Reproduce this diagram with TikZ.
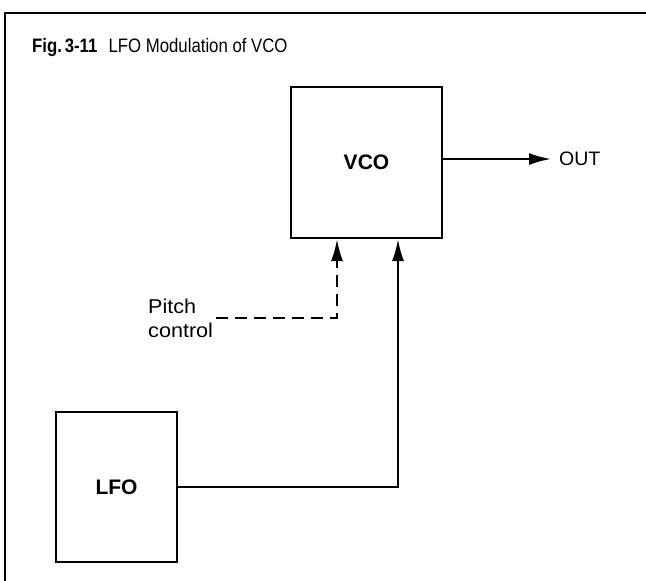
\documentclass[tikz,border=0pt]{standalone}
\usepackage{fontspec}
\setmainfont{Liberation Sans}
\usetikzlibrary{arrows.meta}
\begin{document}
\begin{tikzpicture}[x=1pt,y=-1pt,
  blockbox/.style={draw,line width=2.2pt,inner sep=0pt,font=\fontsize{21}{23}\selectfont\bfseries},
  conn/.style={line width=2.2pt,-{Latex[length=22pt,width=12pt]}},
  lbl/.style={font=\fontsize{19.5}{21}\selectfont,inner sep=0pt}]
\useasboundingbox (0,0) rectangle (646,581);
\fill[white] (0,0) rectangle (646,581);
% frame
\draw[line width=2.2pt] (646,13) -- (5,13) -- (5,581);
% caption
\node[lbl,anchor=base west,xscale=0.86] (cap) at (32,52) {\textbf{Fig.\,3-11}\hspace{13pt}LFO Modulation of VCO};
% blocks
\node[blockbox,minimum width=151pt,minimum height=151pt] (vco) at (366.5,162.5) {VCO};
\node[blockbox,minimum width=121pt,minimum height=150pt] (lfo) at (116.5,487) {LFO};
% output
\coordinate (outtip) at (551,159);
\draw[conn] (vco.east |- outtip) -- (outtip);
\node[lbl,anchor=west] (out) at (559,159) {OUT};
% pitch control
\node[lbl,anchor=base west,align=left,font=\fontsize{20}{24}\selectfont,xscale=1.08] (pitch) at (148,337) {Pitch\\control};
\coordinate (pc) at (216,318);
\coordinate (pcbend) at (337,318);
\draw[conn,dash pattern=on 12pt off 7pt] (pc) -- (pcbend) -- (pcbend |- vco.south);
% LFO to VCO
\coordinate (lfobend) at (398,487);
\draw[conn] (lfo.east |- lfobend) -- (lfobend) -- (lfobend |- vco.south);
\end{tikzpicture}
\end{document}
